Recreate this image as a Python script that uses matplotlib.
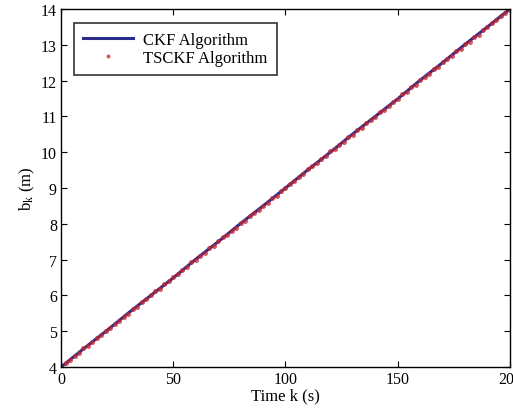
import matplotlib
matplotlib.use('Agg')
import matplotlib.pyplot as plt

plt.rcParams['font.family'] = ['Liberation Serif', 'DejaVu Serif']
plt.rcParams['mathtext.fontset'] = 'stix'

# ── data ───────────────────────────────────────────────────────────────────
t_ckf = [0, 10, 20, 30, 40, 50, 60, 70, 80, 90, 100,
         110, 120, 130, 140, 150, 160, 170, 180, 190, 200]
ckf = [4.00, 4.51, 5.00, 5.51, 6.00, 6.49, 7.01, 7.50, 8.01, 8.50, 9.00,
       9.51, 10.00, 10.51, 11.00, 11.49, 12.01, 12.50, 13.01, 13.50, 14.00]

t_ts = list(range(0, 201, 2))
tsckf = [3.98, 4.11, 4.19, 4.31, 4.39, 4.52, 4.58, 4.71, 4.80, 4.89,
         5.02, 5.09, 5.21, 5.28, 5.41, 5.49, 5.62, 5.68, 5.81, 5.89,
         6.01, 6.12, 6.18, 6.31, 6.39, 6.52, 6.59, 6.71, 6.78, 6.92,
         6.99, 7.11, 7.19, 7.32, 7.38, 7.51, 7.62, 7.68, 7.81, 7.89,
         8.02, 8.08, 8.21, 8.31, 8.39, 8.51, 8.58, 8.72, 8.79, 8.91,
         8.99, 9.12, 9.19, 9.31, 9.38, 9.52, 9.61, 9.69, 9.81, 9.88,
         10.02, 10.09, 10.21, 10.29, 10.42, 10.49, 10.61, 10.68, 10.81, 10.91,
         10.99, 11.12, 11.19, 11.29, 11.41, 11.49, 11.62, 11.69, 11.81, 11.88,
         12.01, 12.11, 12.19, 12.31, 12.38, 12.52, 12.59, 12.69, 12.82, 12.89,
         13.01, 13.09, 13.21, 13.28, 13.41, 13.49, 13.61, 13.69, 13.81, 13.88,
         13.97]

xticks = [0, 50, 100, 150, 200]
yticks = list(range(4, 15))

fig = plt.figure(figsize=(5.13, 4.14), dpi=100)
ax = fig.add_axes([0.119, 0.111, 0.875, 0.865])

ax.plot(t_ckf, ckf, '-', color='#2b2b8c', lw=2.2, label='CKF Algorithm')
ax.plot(t_ts, tsckf, 'o', color='#c8262e', markersize=3.6, markeredgewidth=0,
        alpha=0.75, snap=False, label='TSCKF Algorithm')

ax.set_xlim(0, 200)
ax.set_ylim(4, 14)
ax.set_xticks(xticks)
ax.set_yticks(yticks)
ax.tick_params(direction='in', top=True, right=True, labelsize=11.5, length=4, pad=3)
ax.set_xlabel('Time k (s)', fontsize=12, labelpad=0)
ax.set_ylabel(r'b$_\mathregular{k}$ (m)', fontsize=12, labelpad=3)
for s in ax.spines.values():
    s.set_linewidth(1.0)

leg = ax.legend(loc='upper left', fontsize=12, fancybox=False, framealpha=1,
                edgecolor='#333333', handlelength=3.0, handletextpad=0.6,
                borderpad=0.55, labelspacing=0.15, markerscale=0.8,
                bbox_to_anchor=(0.01, 0.985))
leg.get_frame().set_linewidth(1.2)

fig.savefig('out.png', dpi=100)
